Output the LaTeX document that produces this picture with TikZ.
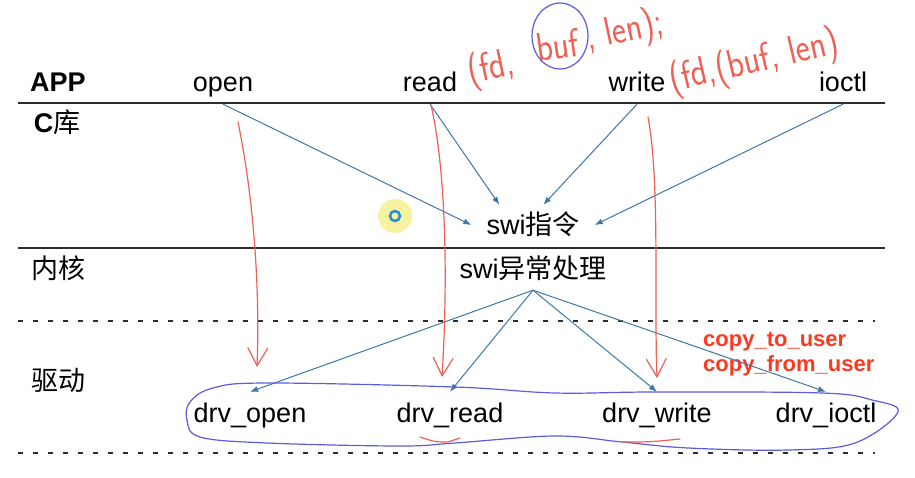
\documentclass[tikz,border=0pt]{standalone}
\usepackage{fontspec}
\setmainfont{Liberation Sans}
\newfontfamily\cjk{Noto Sans CJK SC}
\usetikzlibrary{arrows.meta}
\definecolor{arrowblue}{RGB}{62,118,168}
\definecolor{penred}{RGB}{238,96,84}
\definecolor{penblue}{RGB}{92,92,222}
\definecolor{boldred}{RGB}{250,58,32}
\definecolor{rulegray}{RGB}{45,45,45}
\definecolor{cursoryellow}{RGB}{246,242,160}
\definecolor{cursorblue}{RGB}{40,140,215}

\begin{document}
\begin{tikzpicture}[x=1pt, y=-1pt,
	txt/.style={font=\fontsize{27}{30}\selectfont, inner sep=0pt, text height=20pt, text depth=0pt, anchor=base},
	func/.style={txt, inner ysep=12pt},
	drv/.style={txt, inner ysep=10pt},
	conn/.style={draw=arrowblue, line width=1pt, -{Latex[length=8pt,width=6pt]}},
	pen/.style={draw=penred, line width=1.2pt, line cap=round, line join=round},
	penarrow/.style={pen, -{Straight Barb[length=18pt,width=20pt]}},
	hand/.style={font=\sffamily\fontsize{40}{42}\selectfont, text=penred, inner sep=0pt, anchor=base west},
	copytxt/.style={font=\bfseries\fontsize{22}{24}\selectfont, text=boldred, inner sep=0pt, anchor=base west},
	layerline/.style={draw=rulegray, line width=2.5pt},
	dotline/.style={draw=rulegray, line width=2.5pt, dash pattern=on 5pt off 10pt}]
				\useasboundingbox (0,0) rectangle (915,478);
				% layers
				\foreach \y in {103,248} {
					\draw[layerline] (18,\y) -- (885,\y);
				}
				\foreach \y in {321,453} {
					\draw[dotline] (18,\y) -- (875,\y);
				}
				\node[txt, font=\bfseries\fontsize{27}{30}\selectfont] (app) at (58,92) {APP};
				\node[txt] (clib) at (57,133) {\textbf{C}{\cjk 库}};
				\node[txt] (kernel) at (58,278) {\cjk 内核};
				\node[txt] (driver) at (58,390) {\cjk 驱动};
				% calls
				\node[func] (open) at (223,92) {open};
				\node[func] (read) at (430,92) {read};
				\node[func] (write) at (637,92) {write};
				\node[func] (ioctl) at (843,92) {ioctl};
				\node[txt, inner xsep=15pt, inner ysep=10pt] (swi) at (533,235) {swi{\cjk 指令}};
				\node[txt, inner ysep=12pt] (exc) at (533,278) {swi{\cjk 异常处理}};
				\node[drv] (drvopen) at (250,422) {drv\_open};
				\node[drv] (drvread) at (450,422) {drv\_read};
				\node[drv] (drvwrite) at (657,422) {drv\_write};
				\node[drv] (drvioctl) at (826,422) {drv\_ioctl};
				\node[copytxt] (cpto) at (703,346) {copy\_to\_user};
				\node[copytxt] (cpfrom) at (703,371) {copy\_from\_user};
				\draw[conn] (open.south) -- (swi.west);
				\draw[conn] (read.south) -- (swi.149);
				\draw[conn] (write.south) -- (swi.63);
				\draw[conn] (ioctl.south) -- (swi.east);
				\foreach \d in {drvopen,drvread,drvwrite,drvioctl} {
					\draw[conn] (exc.south) -- (\d.north);
				}
				% pen notes
				\coordinate (pen1a) at (238,122);
				\coordinate (pen1b) at (257,367);
				\coordinate (pen2a) at (431,105);
				\coordinate (pen2b) at (442,377);
				\coordinate (pen3a) at (648,117);
				\coordinate (pen3b) at (657,378);
				\draw[penarrow] (pen1a) .. controls (254,200) and (260,290) .. (pen1b);
				\draw[penarrow] (pen2a) .. controls (446,170) and (448,280) .. (pen2b);
				\draw[penarrow] (pen3a) .. controls (660,180) and (654,300) .. (pen3b);
				\node[hand, rotate=12, xscale=.85] (rdfd) at (470,84) {(fd,};
				\node[hand, rotate=8, xscale=.85] (rdbuf) at (538,62) {buf};
				\node[hand, rotate=12, xscale=.85] (rdlen) at (588,50) {, len);};
				\node[hand, rotate=13, xscale=.85] (wrargs) at (672,92) {(fd,(buf, len)};
				\draw[penblue, line width=1.2pt] (560,36) ellipse [x radius=28, y radius=33];
				\draw[penblue, line width=1.2pt] plot[smooth cycle, tension=.6] coordinates {(213,388) (267,383) (455,387) (555,393) (655,392) (822,393) (872,400) (898,412) (855,443) (788,450) (688,448) (622,442) (555,436) (455,443) (400,446) (267,443) (200,437) (187,420) (190,402)};
				\draw[pen] (420,437) .. controls (435,442) .. (448,442) -- (460,438);
				\draw[pen] (623,442) .. controls (650,442) .. (680,439);
				\fill[cursoryellow] (395,216) circle (17);
				\draw[cursorblue, line width=2.5pt] (395,216) circle (5);
			\end{tikzpicture}
\end{document}
